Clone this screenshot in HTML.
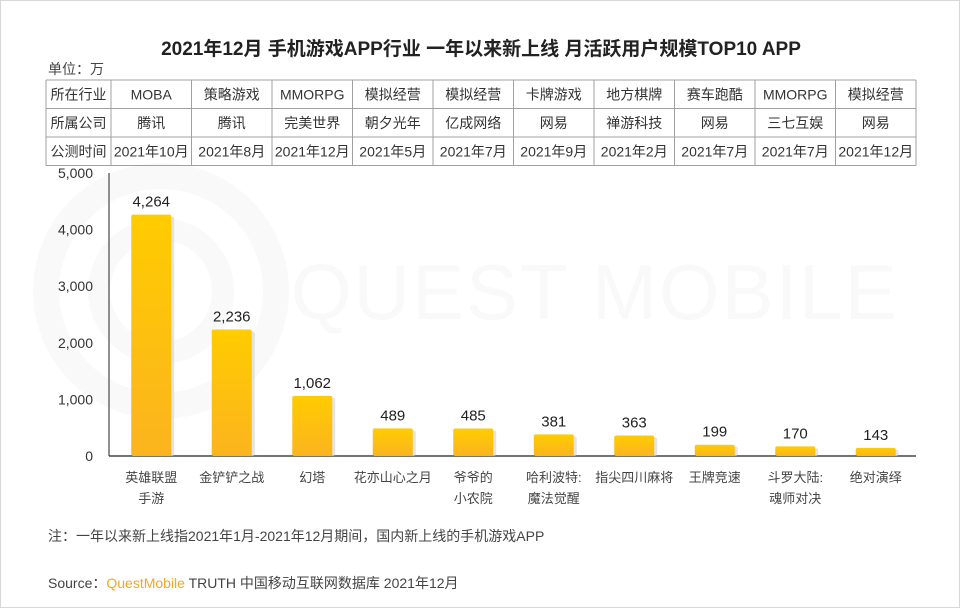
<!DOCTYPE html>
<html><head><meta charset="utf-8">
<style>
body{margin:0;background:#fff;}
#wrap{position:relative;width:960px;height:608px;overflow:hidden;background:#fff;border:1px solid #d8d8d8;box-sizing:border-box;font-family:"Liberation Sans","Noto Sans CJK SC",sans-serif;}
svg text{font-family:"Liberation Sans","Noto Sans CJK SC",sans-serif;}
</style></head>
<body>
<div id="wrap">
<svg id="chart" width="960" height="608">
<defs>
<linearGradient id="bg" x1="0" y1="0" x2="0" y2="1">
<stop offset="0" stop-color="#ffcc00"/><stop offset="1" stop-color="#fbb41f"/>
</linearGradient>
</defs>
<g id="wm" opacity="0.35">
<circle cx="160" cy="290" r="115" fill="none" stroke="#eeeeee" stroke-width="26"/>
<circle cx="160" cy="290" r="62" fill="none" stroke="#eeeeee" stroke-width="22"/>
<text x="290" y="318" font-size="78" fill="#eeeeee" letter-spacing="2">QUEST MOBILE</text>
</g>
<text x="480" y="54" text-anchor="middle" font-size="19" font-weight="bold" fill="#222">2021年12月 手机游戏APP行业 一年以来新上线 月活跃用户规模TOP10 APP</text>
<text x="47" y="73" font-size="14" fill="#444">单位：万</text>
<g id="table"></g>
<g id="axis"></g>
<g id="bars"></g>
<text x="47" y="540" font-size="14" fill="#444">注：一年以来新上线指2021年1月-2021年12月期间，国内新上线的手机游戏APP</text>
<text x="47" y="587" font-size="14" fill="#444">Source：<tspan fill="#f5a623">QuestMobile</tspan> TRUTH 中国移动互联网数据库 2021年12月</text>
</svg>
</div>
<script>
const categories=[["英雄联盟","手游"],["金铲铲之战"],["幻塔"],["花亦山心之月"],["爷爷的","小农院"],["哈利波特:","魔法觉醒"],["指尖四川麻将"],["王牌竞速"],["斗罗大陆:","魂师对决"],["绝对演绎"]];
const values=[4264,2236,1062,489,485,381,363,199,170,143];
const valueLabels=["4,264","2,236","1,062","489","485","381","363","199","170","143"];
const industries=["MOBA","策略游戏","MMORPG","模拟经营","模拟经营","卡牌游戏","地方棋牌","赛车跑酷","MMORPG","模拟经营"];
const companies=["腾讯","腾讯","完美世界","朝夕光年","亿成网络","网易","禅游科技","网易","三七互娱","网易"];
const launchDates=["2021年10月","2021年8月","2021年12月","2021年5月","2021年7月","2021年9月","2021年2月","2021年7月","2021年7月","2021年12月"];
const rowHeaders=["所在行业","所属公司","公测时间"];
const yTicks=[0,1000,2000,3000,4000,5000];
const yTickLabels=["0","1,000","2,000","3,000","4,000","5,000"];

const NS="http://www.w3.org/2000/svg";
function mk(tag,attrs,parent,text){const e=document.createElementNS(NS,tag);for(const k in attrs)e.setAttribute(k,attrs[k]);if(text!==undefined)e.textContent=text;parent.appendChild(e);return e;}
const x0=110,colW=80.5,yBase=455,yTop=172,yMax=5000;
const xc=i=>x0+colW*(i+0.5);
const ys=v=>yBase-(v/yMax)*(yBase-yTop);

const tb=document.getElementById('table');
const tTop=79,rowH=28.5,tLeft=45,tRight=x0+colW*10;
const rows=[industries,companies,launchDates];
for(let r=0;r<=3;r++){const l=mk('line',{x1:tLeft,x2:tRight,y1:tTop+r*rowH,y2:tTop+r*rowH,stroke:'#a0a0a0','stroke-width':1},tb);

}
for(let c=0;c<=10;c++){const x=c===0?tLeft:x0+colW*(c-1);const l=mk('line',{x1:x,x2:x,y1:tTop,y2:tTop+3*rowH,stroke:'#a0a0a0','stroke-width':1},tb);

}
{const l=mk('line',{x1:tRight,x2:tRight,y1:tTop,y2:tTop+3*rowH,stroke:'#a0a0a0','stroke-width':1},tb);}
rows.forEach((arr,r)=>{
 const hy=tTop+r*rowH+rowH/2+5;
 const h=mk('text',{x:(tLeft+x0)/2,y:hy,'text-anchor':'middle','font-size':14,fill:'#333'},tb,rowHeaders[r]);
 
 
 arr.forEach((t,i)=>{const e=mk('text',{x:xc(i),y:hy,'text-anchor':'middle','font-size':14,fill:'#333'},tb,t);
 
 });
});

const ax=document.getElementById('axis');
mk('line',{x1:108,x2:108,y1:yTop,y2:yBase,stroke:'#222','stroke-width':1},ax);
const bl=mk('line',{x1:108,x2:915,y1:yBase,y2:yBase,stroke:'#222','stroke-width':1.2},ax);


yTicks.forEach((v,i)=>{const t=mk('text',{x:92,y:ys(v)+5,'text-anchor':'end','font-size':14,fill:'#333'},ax,yTickLabels[i]);

});

const bg=document.getElementById('bars');
values.forEach((v,i)=>{
 const w=40,x=xc(i)-w/2,y=ys(v);
 mk('rect',{x:x+3,y:y+2,width:w,height:yBase-y-2,fill:'#d8d8d8',rx:2,opacity:0.7},bg);
 const r=mk('rect',{x:x,y:y,width:w,height:yBase-y,fill:'url(#bg)',rx:2},bg);
 
 
 const vl=mk('text',{x:xc(i),y:y-8,'text-anchor':'middle','font-size':15,fill:'#222'},bg,valueLabels[i]);
 
 
 categories[i].forEach((line,j)=>{const c=mk('text',{x:xc(i),y:481+j*21,'text-anchor':'middle','font-size':13,fill:'#444'},bg,line);
 
 });
});
</script>
</body></html>
